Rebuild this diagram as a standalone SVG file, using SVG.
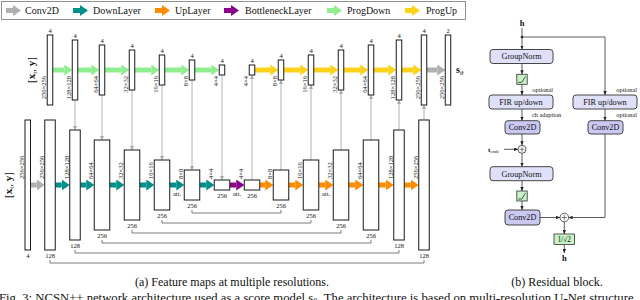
<svg xmlns="http://www.w3.org/2000/svg" width="640" height="300" viewBox="0 0 640 300">
<style>
.t{font-family:"Liberation Serif","DejaVu Serif",serif;fill:#111}
.s{font-size:6.5px}
.bar{fill:#fff;stroke:#1a1a1a;stroke-width:1}
.ar{stroke-width:5;fill:none}
.gc{stroke:#b4b4b4;stroke-width:1;fill:none;marker-end:url(#mC)}
.sk{stroke:#6e6e6e;stroke-width:0.9;fill:none}
.rl{stroke:#333;stroke-width:0.8;fill:none}
.ra{stroke:#333;stroke-width:0.8;fill:none;marker-end:url(#mK)}
.bx{fill:#e0e0fb;stroke:#333;stroke-width:0.9}
.cv{fill:#c9c9f2;stroke:#333;stroke-width:0.9}
.gr{fill:#c6f2c6;stroke:#333;stroke-width:0.8}
.bt{font-size:8.2px}
.op{font-size:6.3px}
</style>
<defs>
<marker id="mG" markerUnits="userSpaceOnUse" viewBox="0 0 8 11" markerWidth="8" markerHeight="11" refX="0" refY="5.5" orient="auto"><path d="M0,0L8,5.5L0,11z" fill="#b0b0b0"/></marker>
<marker id="mT" markerUnits="userSpaceOnUse" viewBox="0 0 8 11" markerWidth="8" markerHeight="11" refX="0" refY="5.5" orient="auto"><path d="M0,0L8,5.5L0,11z" fill="#00908a"/></marker>
<marker id="mO" markerUnits="userSpaceOnUse" viewBox="0 0 8 11" markerWidth="8" markerHeight="11" refX="0" refY="5.5" orient="auto"><path d="M0,0L8,5.5L0,11z" fill="#ff8c00"/></marker>
<marker id="mP" markerUnits="userSpaceOnUse" viewBox="0 0 8 11" markerWidth="8" markerHeight="11" refX="0" refY="5.5" orient="auto"><path d="M0,0L8,5.5L0,11z" fill="#8b008b"/></marker>
<marker id="mL" markerUnits="userSpaceOnUse" viewBox="0 0 8 11" markerWidth="8" markerHeight="11" refX="0" refY="5.5" orient="auto"><path d="M0,0L8,5.5L0,11z" fill="#90ee90"/></marker>
<marker id="mY" markerUnits="userSpaceOnUse" viewBox="0 0 8 11" markerWidth="8" markerHeight="11" refX="0" refY="5.5" orient="auto"><path d="M0,0L8,5.5L0,11z" fill="#ffd21a"/></marker>
<marker id="mC" markerUnits="userSpaceOnUse" viewBox="0 0 4 4" markerWidth="4" markerHeight="4" refX="4" refY="2" orient="auto"><path d="M0,0L4,2L0,4z" fill="#a8a8a8"/></marker>
<marker id="mK" markerUnits="userSpaceOnUse" viewBox="0 0 4 3.4" markerWidth="4" markerHeight="3.4" refX="4" refY="1.7" orient="auto"><path d="M0,0L4,1.7L0,3.4z" fill="#222"/></marker>
</defs>

<!-- legend -->
<g id="legend">
<rect x="1.5" y="1.5" width="464" height="18" fill="#fff" stroke="#777" stroke-width="0.8"/>
<line x1="6" y1="10.5" x2="13" y2="10.5" class="ar" stroke="#b0b0b0" marker-end="url(#mG)"/>
<text class="t" x="25" y="14" font-size="10">Conv2D</text>
<line x1="73" y1="10.5" x2="80" y2="10.5" class="ar" stroke="#00908a" marker-end="url(#mT)"/>
<text class="t" x="93" y="14" font-size="10">DownLayer</text>
<line x1="155" y1="10.5" x2="162" y2="10.5" class="ar" stroke="#ff8c00" marker-end="url(#mO)"/>
<text class="t" x="175" y="14" font-size="10">UpLayer</text>
<line x1="224" y1="10.5" x2="231" y2="10.5" class="ar" stroke="#8b008b" marker-end="url(#mP)"/>
<text class="t" x="245" y="14" font-size="10">BottleneckLayer</text>
<line x1="327" y1="10.5" x2="334" y2="10.5" class="ar" stroke="#90ee90" marker-end="url(#mL)"/>
<text class="t" x="347" y="14" font-size="10">ProgDown</text>
<line x1="405" y1="10.5" x2="412" y2="10.5" class="ar" stroke="#ffd21a" marker-end="url(#mY)"/>
<text class="t" x="426" y="14" font-size="10">ProgUp</text>
</g>

<!-- input labels -->
<text class="t" font-size="11" text-anchor="middle" transform="translate(35,70) rotate(-90)">[<tspan font-weight="bold">x</tspan><tspan font-size="7" dy="2">t</tspan><tspan dy="-2">, </tspan><tspan font-weight="bold">y</tspan>]</text>
<text class="t" font-size="11" text-anchor="middle" transform="translate(12,185) rotate(-90)">[<tspan font-weight="bold">x</tspan><tspan font-size="7" dy="2">t</tspan><tspan dy="-2">, </tspan><tspan font-weight="bold">y</tspan>]</text>
<text class="t" x="456" y="73" font-size="10" font-weight="bold">s<tspan font-size="7" font-weight="normal" font-style="italic" dy="2">θ</tspan></text>

<!-- connectors -->
<g id="connectors">
<g stroke="#90ee90" class="ar" marker-end="url(#mL)">
<line x1="52.75" y1="70" x2="64.25" y2="70"/>
<line x1="77.75" y1="70" x2="91.25" y2="70"/>
<line x1="104.75" y1="70" x2="121.25" y2="70"/>
<line x1="134.75" y1="70" x2="151.25" y2="70"/>
<line x1="164.75" y1="70" x2="181.25" y2="70"/>
<line x1="194.75" y1="70" x2="211.25" y2="70"/>
</g>
<g stroke="#ffd21a" class="ar" marker-end="url(#mY)">
<line x1="254.75" y1="70" x2="270.25" y2="70"/>
<line x1="283.75" y1="70" x2="300.25" y2="70"/>
<line x1="313.75" y1="70" x2="330.25" y2="70"/>
<line x1="343.75" y1="70" x2="360.25" y2="70"/>
<line x1="373.75" y1="70" x2="388.25" y2="70"/>
<line x1="401.75" y1="70" x2="413.25" y2="70"/>
</g>
<line x1="426.75" y1="70" x2="437.25" y2="70" stroke="#b0b0b0" class="ar" marker-end="url(#mG)"/>
<line x1="30.5" y1="185" x2="36.75" y2="185" stroke="#b0b0b0" class="ar" marker-end="url(#mG)"/>
<g stroke="#00908a" class="ar" marker-end="url(#mT)">
<line x1="55.25" y1="185" x2="61.75" y2="185"/>
<line x1="80.25" y1="185" x2="86.25" y2="185"/>
<line x1="109.75" y1="185" x2="116.25" y2="185"/>
<line x1="139.75" y1="185" x2="146.25" y2="185"/>
<line x1="169.75" y1="185" x2="176.25" y2="185"/>
<line x1="199.75" y1="185" x2="206.25" y2="185"/>
</g>
<line x1="229.75" y1="185" x2="236.25" y2="185" stroke="#8b008b" class="ar" marker-end="url(#mP)"/>
<g stroke="#ff8c00" class="ar" marker-end="url(#mO)">
<line x1="259.75" y1="185" x2="265.25" y2="185"/>
<line x1="288.75" y1="185" x2="295.25" y2="185"/>
<line x1="318.75" y1="185" x2="325.25" y2="185"/>
<line x1="348.75" y1="185" x2="355.25" y2="185"/>
<line x1="378.75" y1="185" x2="385.75" y2="185"/>
<line x1="404.25" y1="185" x2="410.75" y2="185"/>
</g>
<path class="gc" d="M75,100V130"/>
<path class="gc" d="M102,95V140"/>
<path class="gc" d="M132,90V150"/>
<path class="gc" d="M162,85V160"/>
<path class="gc" d="M192,80V170"/>
<path class="gc" d="M222,75V180"/>
<path class="gc" d="M252,180V75"/>
<path class="gc" d="M281,170V80"/>
<path class="gc" d="M311,160V85"/>
<path class="gc" d="M341,150V90"/>
<path class="gc" d="M371,140V95"/>
<path class="gc" d="M399,130V100"/>
<path class="gc" d="M424,120V105"/>
<path class="sk" d="M192,210V213H281V210"/>
<path class="sk" d="M162,220V223H311V220"/>
<path class="sk" d="M132,230V233H341V230"/>
<path class="sk" d="M102,240V243H371V240"/>
<path class="sk" d="M75,250V253H399V250"/>
<path class="sk" d="M50,260V263H424V260"/>
<path class="ra" d="M522,28V49.5"/>
<circle cx="522" cy="37" r="1.3" fill="#222"/>
<path class="ra" d="M522,37H605V95"/>
<path class="ra" d="M522,63.5V74.3"/>
<path class="ra" d="M522,84.3V95"/>
<path class="ra" d="M522,109V120.7"/>
<path class="ra" d="M605,109V120.7"/>
<path class="ra" d="M522,134V145.3"/>
<path class="ra" d="M504,149.3H518"/>
<path class="ra" d="M522,153.3V166.7"/>
<path class="ra" d="M522,180.7V191"/>
<path class="ra" d="M522,201V210"/>
<path class="ra" d="M540,217.5H560"/>
<path class="ra" d="M605,134V217.5H568.6"/>
<path class="ra" d="M564.3,221.8V234"/>
<path class="ra" d="M564.3,244.5V253"/>
</g>

<!-- top row nodes -->
<g id="top-0"><rect class="bar" x="47.25" y="35" width="5.5" height="70"/><text class="t s" x="50" y="33" text-anchor="middle">4</text><text class="t s" text-anchor="end" transform="translate(46.25,76) rotate(-90)">256×256</text></g>
<g id="top-1"><rect class="bar" x="72.25" y="40" width="5.5" height="60"/><text class="t s" x="75" y="38" text-anchor="middle">4</text><text class="t s" text-anchor="end" transform="translate(71.25,76) rotate(-90)">128×128</text></g>
<g id="top-2"><rect class="bar" x="99.25" y="45" width="5.5" height="50"/><text class="t s" x="102" y="43" text-anchor="middle">4</text><text class="t s" text-anchor="end" transform="translate(98.25,76) rotate(-90)">64×64</text></g>
<g id="top-3"><rect class="bar" x="129.25" y="50" width="5.5" height="40"/><text class="t s" x="132" y="48" text-anchor="middle">4</text><text class="t s" text-anchor="end" transform="translate(128.25,76) rotate(-90)">32×32</text></g>
<g id="top-4"><rect class="bar" x="159.25" y="55" width="5.5" height="30"/><text class="t s" x="162" y="53" text-anchor="middle">4</text><text class="t s" text-anchor="end" transform="translate(158.25,76) rotate(-90)">16×16</text></g>
<g id="top-5"><rect class="bar" x="189.25" y="60" width="5.5" height="20"/><text class="t s" x="192" y="58" text-anchor="middle">4</text><text class="t s" text-anchor="end" transform="translate(188.25,76) rotate(-90)">8×8</text></g>
<g id="top-6"><rect class="bar" x="219.25" y="65" width="5.5" height="10"/><text class="t s" x="222" y="63" text-anchor="middle">4</text><text class="t s" text-anchor="end" transform="translate(218.25,76) rotate(-90)">4×4</text></g>
<g id="top-7"><rect class="bar" x="249.25" y="65" width="5.5" height="10"/><text class="t s" x="252" y="63" text-anchor="middle">4</text><text class="t s" text-anchor="end" transform="translate(248.25,76) rotate(-90)">4×4</text></g>
<g id="top-8"><rect class="bar" x="278.25" y="60" width="5.5" height="20"/><text class="t s" x="281" y="58" text-anchor="middle">4</text><text class="t s" text-anchor="end" transform="translate(277.25,76) rotate(-90)">8×8</text></g>
<g id="top-9"><rect class="bar" x="308.25" y="55" width="5.5" height="30"/><text class="t s" x="311" y="53" text-anchor="middle">4</text><text class="t s" text-anchor="end" transform="translate(307.25,76) rotate(-90)">16×16</text></g>
<g id="top-10"><rect class="bar" x="338.25" y="50" width="5.5" height="40"/><text class="t s" x="341" y="48" text-anchor="middle">4</text><text class="t s" text-anchor="end" transform="translate(337.25,76) rotate(-90)">32×32</text></g>
<g id="top-11"><rect class="bar" x="368.25" y="45" width="5.5" height="50"/><text class="t s" x="371" y="43" text-anchor="middle">4</text><text class="t s" text-anchor="end" transform="translate(367.25,76) rotate(-90)">64×64</text></g>
<g id="top-12"><rect class="bar" x="396.25" y="40" width="5.5" height="60"/><text class="t s" x="399" y="38" text-anchor="middle">4</text><text class="t s" text-anchor="end" transform="translate(395.25,76) rotate(-90)">128×128</text></g>
<g id="top-13"><rect class="bar" x="421.25" y="35" width="5.5" height="70"/><text class="t s" x="424" y="33" text-anchor="middle">4</text><text class="t s" text-anchor="end" transform="translate(420.25,76) rotate(-90)">256×256</text></g>
<g id="top-14"><rect class="bar" x="445.25" y="35" width="5.5" height="70"/><text class="t s" x="448" y="33" text-anchor="middle">2</text><text class="t s" text-anchor="end" transform="translate(444.25,76) rotate(-90)">256×256</text></g>

<!-- bottom row nodes -->
<g id="bot-A"><rect class="bar" x="25" y="120" width="5.5" height="130"/><text class="t s" x="27.75" y="257.5" text-anchor="middle">4</text><text class="t s" transform="translate(24,179) rotate(-90)">256×256</text></g>
<g id="bot-B"><rect class="bar" x="44.75" y="120" width="10.5" height="130"/><text class="t s" x="50" y="257.5" text-anchor="middle">128</text><text class="t s" transform="translate(43.75,179) rotate(-90)">256×256</text></g>
<g id="bot-C"><rect class="bar" x="69.75" y="130" width="10.5" height="110"/><text class="t s" x="75" y="247.5" text-anchor="middle">128</text><text class="t s" transform="translate(68.75,179) rotate(-90)">128×128</text></g>
<g id="bot-D"><rect class="bar" x="94.25" y="140" width="15.5" height="90"/><text class="t s" x="102" y="237.5" text-anchor="middle">256</text><text class="t s" transform="translate(93.25,179) rotate(-90)">64×64</text></g>
<g id="bot-E"><rect class="bar" x="124.25" y="150" width="15.5" height="70"/><text class="t s" x="132" y="227.5" text-anchor="middle">256</text><text class="t s" transform="translate(123.25,179) rotate(-90)">32×32</text></g>
<g id="bot-F"><rect class="bar" x="154.25" y="160" width="15.5" height="50"/><text class="t s" x="162" y="217.5" text-anchor="middle">256</text><text class="t s" transform="translate(153.25,179) rotate(-90)">16×16</text></g>
<g id="bot-G"><rect class="bar" x="184.25" y="170" width="15.5" height="30"/><text class="t s" x="192" y="207.5" text-anchor="middle">256</text><text class="t s" transform="translate(183.25,179) rotate(-90)">8×8</text></g>
<g id="bot-H"><rect class="bar" x="214.25" y="180" width="15.5" height="10"/><text class="t s" x="222" y="197.5" text-anchor="middle">256</text><text class="t s" transform="translate(213.25,179) rotate(-90)">4×4</text></g>
<g id="bot-I"><rect class="bar" x="244.25" y="180" width="15.5" height="10"/><text class="t s" x="252" y="197.5" text-anchor="middle">256</text><text class="t s" transform="translate(243.25,179) rotate(-90)">4×4</text></g>
<g id="bot-J"><rect class="bar" x="273.25" y="170" width="15.5" height="30"/><text class="t s" x="281" y="207.5" text-anchor="middle">256</text><text class="t s" transform="translate(272.25,179) rotate(-90)">8×8</text></g>
<g id="bot-K"><rect class="bar" x="303.25" y="160" width="15.5" height="50"/><text class="t s" x="311" y="217.5" text-anchor="middle">256</text><text class="t s" transform="translate(302.25,179) rotate(-90)">16×16</text></g>
<g id="bot-L"><rect class="bar" x="333.25" y="150" width="15.5" height="70"/><text class="t s" x="341" y="227.5" text-anchor="middle">256</text><text class="t s" transform="translate(332.25,179) rotate(-90)">32×32</text></g>
<g id="bot-M"><rect class="bar" x="363.25" y="140" width="15.5" height="90"/><text class="t s" x="371" y="237.5" text-anchor="middle">256</text><text class="t s" transform="translate(362.25,179) rotate(-90)">64×64</text></g>
<g id="bot-N"><rect class="bar" x="393.75" y="130" width="10.5" height="110"/><text class="t s" x="399" y="247.5" text-anchor="middle">128</text><text class="t s" transform="translate(392.75,179) rotate(-90)">128×128</text></g>
<g id="bot-O"><rect class="bar" x="418.75" y="120" width="10.5" height="130"/><text class="t s" x="424" y="257.5" text-anchor="middle">128</text><text class="t s" transform="translate(417.75,179) rotate(-90)">256×256</text></g>

<text class="t s" x="177" y="196" text-anchor="middle">att.</text>
<text class="t s" x="237" y="196" text-anchor="middle">att.</text>
<text class="t s" x="326" y="196" text-anchor="middle">att.</text>

<!-- residual block -->
<text class="t" x="522" y="26" font-size="8.5" font-weight="bold" text-anchor="middle">h</text>
<g id="rb-groupnorm1"><rect class="bx" x="490" y="49.5" width="63" height="14" rx="3"/><text class="t bt" x="521.5" y="59.3" text-anchor="middle">GroupNorm</text></g>
<g id="rb-act1"><rect class="gr" x="516.8" y="74.3" width="10.4" height="10"/><path d="M518.3,82.3H521.3C523.3,82.3 523.5,77.3 525.8,76.6" fill="none" stroke="#222" stroke-width="0.8"/></g>
<text class="t op" x="553" y="91.8" text-anchor="end">optional</text>
<g id="rb-fir1"><rect class="bx" x="489" y="95" width="64" height="14" rx="3"/><text class="t bt" x="521" y="104.8" text-anchor="middle">FIR up/down</text></g>
<text class="t op" x="532" y="117.3">ch adaption</text>
<g id="rb-conv1"><rect class="cv" x="505" y="120.7" width="35" height="13.3" rx="3"/><text class="t bt" x="522.5" y="130.2" text-anchor="middle">Conv2D</text></g>
<text class="t op" x="637" y="91.8" text-anchor="end">optional</text>
<g id="rb-fir2"><rect class="bx" x="573" y="95" width="64" height="14" rx="3"/><text class="t bt" x="605" y="104.8" text-anchor="middle">FIR up/down</text></g>
<text class="t op" x="637" y="117.3" text-anchor="end">optional</text>
<g id="rb-conv-skip"><rect class="cv" x="588" y="120.7" width="35" height="13.3" rx="3"/><text class="t bt" x="605.5" y="130.2" text-anchor="middle">Conv2D</text></g>
<g id="rb-add1"><circle cx="522" cy="149.3" r="4" fill="#fff" stroke="#333" stroke-width="0.8"/><path d="M519.5,149.3h5M522,146.8v5" stroke="#333" stroke-width="0.6"/></g>
<text class="t" x="488" y="151.5" font-size="7" font-weight="bold">t<tspan font-size="4.8" font-weight="normal" dy="1.2">emb</tspan></text>
<g id="rb-groupnorm2"><rect class="bx" x="490" y="166.7" width="63" height="14" rx="3"/><text class="t bt" x="521.5" y="176.5" text-anchor="middle">GroupNorm</text></g>
<g id="rb-act2"><rect class="gr" x="516.8" y="191" width="10.4" height="10"/><path d="M518.3,199H521.3C523.3,199 523.5,194 525.8,193.3" fill="none" stroke="#222" stroke-width="0.8"/></g>
<g id="rb-conv2"><rect class="cv" x="505" y="210" width="35" height="15" rx="3"/><text class="t bt" x="522.5" y="220.4" text-anchor="middle">Conv2D</text></g>
<g id="rb-add2"><circle cx="564.3" cy="217.5" r="4.3" fill="#fff" stroke="#333" stroke-width="0.8"/><path d="M561.6,217.5h5.4M564.3,214.8v5.4" stroke="#333" stroke-width="0.6"/></g>
<g id="rb-scale"><rect class="gr" x="554" y="234" width="20.6" height="10.5"/><text class="t" x="564.3" y="242" font-size="7.2" text-anchor="middle">1/√2</text></g>
<text class="t" x="564.3" y="260.5" font-size="8.5" font-weight="bold" text-anchor="middle">h</text>

<!-- captions -->
<text class="t" x="232" y="285.5" font-size="12" text-anchor="middle">(a) Feature maps at multiple resolutions.</text>
<text class="t" x="557" y="285.5" font-size="12" text-anchor="middle">(b) Residual block.</text>
<text class="t" x="-1" y="302" font-size="12.7">Fig. 3: NCSN++ network architecture used as a score model s<tspan font-size="9" dy="2">θ</tspan><tspan dy="-2">. The architecture is based on multi-resolution U-Net structure</tspan></text>
</svg>
